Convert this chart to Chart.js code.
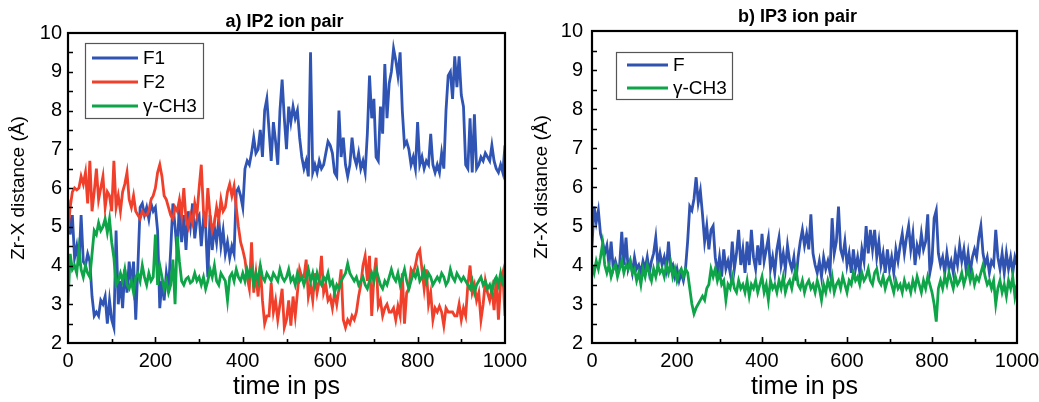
<!DOCTYPE html>
<html><head><meta charset="utf-8">
<script src="https://cdn.jsdelivr.net/npm/chart.js@4.4.1/dist/chart.umd.min.js"></script>
<style>
html,body{margin:0;padding:0;background:#fff;overflow:hidden;width:1039px;height:402px;}
canvas{position:absolute;top:0;}
#c1{left:0}
#c2{left:520px}
</style></head><body>
<canvas id="c1" width="545" height="402"></canvas>
<canvas id="c2" width="540" height="402"></canvas>
<script>
// time axis categories (ps), one sample every 5 ps
const timePs = Array.from({length: 201}, (_, i) => i * 5);
const yTickValues = [2,3,4,5,6,7,8,9,10];
const xTickValues = [0,200,400,600,800,1000];

// Panel a) IP2 ion pair
const ip2_F1 = [
5.7,4.8,5.3,4.2,4.5,4.0,5.3,4.1,4.0,4.3,4.1,3.2,2.7,2.8,2.7,3.1,3.0,3.2,2.5,3.1,
2.6,2.4,4.9,3.0,3.6,2.9,3.9,3.3,4.1,3.5,4.1,2.6,4.0,5.5,5.6,5.3,5.5,5.2,5.6,5.4,
5.5,4.9,2.9,3.6,3.1,3.8,3.4,4.4,5.6,5.0,4.3,5.7,4.6,5.3,4.4,5.4,5.0,5.6,4.7,5.2,
5.3,4.5,5.2,5.0,3.7,5.3,4.4,5.0,4.6,5.2,4.5,4.9,4.3,4.6,4.2,4.5,4.3,5.9,6.0,5.8,
5.5,6.5,6.7,6.6,6.9,7.3,6.9,7.0,7.5,6.8,8.0,8.3,7.5,6.7,7.7,7.2,6.6,8.0,8.8,7.8,
7.0,8.1,7.7,8.1,7.8,8.0,7.3,6.8,6.5,6.7,6.3,9.5,6.4,6.6,6.4,6.7,6.5,6.6,6.9,7.2,
7.1,6.9,6.4,6.3,8.0,6.8,7.3,6.6,6.3,6.6,7.3,6.8,6.6,6.9,6.5,6.7,6.4,7.4,8.9,7.8,
8.3,6.8,6.7,8.1,7.4,9.2,7.8,8.7,9.0,9.6,9.3,8.9,9.5,8.0,7.1,7.2,7.0,6.6,6.8,6.5,
7.7,6.6,6.8,6.5,6.7,6.6,7.4,6.6,6.4,6.6,6.4,6.9,6.5,8.0,8.9,9.0,8.3,9.4,8.6,9.4,
8.4,8.1,6.6,6.5,7.8,6.4,7.9,6.5,6.6,6.8,6.7,6.9,6.8,6.7,7.1,6.7,6.5,6.4,6.6,6.4,
7.1];
const ip2_F2 = [
4.9,5.5,5.9,6.0,5.95,6.0,6.3,6.1,6.4,5.6,6.7,5.4,5.9,6.5,5.7,6.0,6.3,5.5,5.9,5.8,
5.4,6.7,5.5,5.8,5.4,5.9,6.1,6.4,5.7,5.5,5.8,5.4,5.3,5.2,5.4,5.3,5.3,5.4,5.7,5.8,
6.0,6.4,6.6,6.3,5.8,5.7,5.5,5.3,5.2,5.5,5.4,5.7,5.3,6.0,5.2,5.0,5.3,5.1,5.6,5.3,
6.0,6.6,5.4,5.0,6.0,5.3,4.9,5.1,5.5,5.2,5.7,5.4,5.5,5.9,6.1,5.8,6.05,5.5,5.0,4.6,
4.4,4.15,3.7,3.4,4.6,3.3,3.8,3.2,4.0,3.1,2.5,2.7,2.7,3.55,2.8,3.1,2.6,3.0,3.4,2.4,
2.6,3.1,2.45,3.2,2.7,3.3,3.9,3.7,3.7,4.15,3.2,3.5,3.1,3.8,3.3,3.6,4.25,3.3,3.5,3.1,
3.2,2.9,3.3,3.0,3.4,3.9,2.6,2.4,2.6,2.5,2.7,2.6,2.8,3.2,3.5,4.0,4.25,3.6,4.25,2.7,
3.7,4.2,2.95,3.1,2.7,2.9,3.0,2.8,2.8,2.9,2.6,2.95,2.7,3.8,2.5,3.3,3.4,3.9,3.8,4.0,
4.3,4.4,3.9,3.4,3.9,3.0,3.3,2.6,2.9,2.8,2.95,2.8,2.45,2.9,2.8,2.8,2.8,2.7,2.7,3.0,
2.6,2.9,2.7,3.5,4.0,3.3,3.5,3.1,3.3,2.6,3.0,3.6,3.3,3.1,3.4,2.85,3.7,2.6,3.55,3.8,
2.7];
const ip2_CH3 = [
3.0,4.3,3.9,4.0,3.8,4.4,3.9,3.7,4.0,3.8,3.7,4.3,4.9,4.8,5.1,4.9,5.0,5.2,4.85,5.2,
4.6,4.2,3.5,3.6,3.8,3.6,3.9,3.5,3.4,3.6,3.3,3.7,3.8,3.6,4.0,3.7,3.5,3.8,3.6,3.7,
4.8,3.5,4.0,3.7,3.4,3.6,3.3,3.5,4.15,3.0,4.75,4.1,3.6,3.5,3.65,3.7,3.55,3.6,3.8,3.6,
3.7,3.5,3.7,3.4,3.6,3.9,3.7,4.0,3.6,3.5,3.8,3.7,3.6,3.1,3.7,3.8,3.6,3.9,3.7,3.6,
3.8,3.6,3.9,3.7,3.9,3.5,3.8,3.6,4.0,3.7,3.6,3.8,3.7,3.6,3.8,3.7,3.6,3.9,3.7,3.6,
3.7,3.9,3.6,3.7,3.5,3.8,3.6,3.7,3.5,3.7,3.9,3.6,3.8,3.5,3.8,3.6,3.5,3.7,3.6,3.8,
3.5,3.6,3.3,3.5,3.4,3.6,3.7,3.8,4.05,3.8,3.7,3.6,3.7,3.5,3.6,3.7,3.5,3.4,3.6,3.8,
3.6,3.9,3.7,3.5,3.4,3.6,3.5,3.7,3.9,3.7,3.6,3.8,3.5,3.7,3.9,3.6,3.4,3.6,3.8,3.7,
3.9,3.6,3.7,3.9,3.6,3.8,3.7,3.5,3.6,3.7,3.6,3.8,3.7,3.5,3.6,3.9,3.7,3.6,3.8,3.7,
3.6,3.7,3.6,3.5,3.4,3.6,3.3,3.5,3.6,3.7,3.5,3.6,3.4,3.5,3.3,3.6,3.7,3.5,3.8,3.5,
3.5];

// Panel b) IP3 ion pair
const ip3_F = [
4.5,5.5,5.1,5.4,4.8,4.6,4.3,4.5,4.0,4.6,3.9,4.1,3.9,4.0,4.85,4.0,4.7,3.9,4.1,3.8,
4.2,3.9,4.0,3.8,4.1,3.9,4.2,3.8,4.1,4.3,4.7,4.0,4.3,4.0,4.2,3.9,4.6,3.9,4.0,3.7,
3.9,3.6,3.8,3.6,3.9,4.6,5.5,5.4,5.7,6.25,5.6,5.9,5.3,4.6,5.0,4.4,4.9,5.0,4.2,3.8,
4.2,3.7,4.4,3.9,4.1,3.8,4.6,3.9,4.3,4.9,4.0,4.4,3.8,4.6,4.0,4.9,4.2,3.9,4.5,4.0,
4.8,4.1,4.4,4.7,3.9,4.2,3.8,4.4,4.7,4.0,4.3,3.9,4.5,4.1,3.9,4.2,3.6,4.2,4.6,4.9,
4.5,4.8,4.4,5.3,4.3,4.0,3.8,4.1,3.7,4.2,3.9,4.1,3.8,5.2,4.3,4.6,5.5,4.4,4.2,4.6,
4.0,4.3,3.8,4.4,3.9,4.2,3.8,4.4,4.1,5.0,4.3,4.9,4.4,4.9,4.2,4.6,4.0,4.3,3.8,4.4,
3.9,4.2,3.8,4.4,4.1,4.5,4.8,4.3,4.7,5.0,4.4,4.8,4.0,4.5,4.3,4.8,4.4,4.6,5.3,3.8,
4.1,5.2,5.4,4.3,4.0,4.2,3.8,4.3,3.9,4.1,3.8,4.3,4.0,4.5,4.1,4.4,3.9,4.3,3.8,4.2,
4.4,4.2,4.7,5.0,4.3,4.0,4.2,3.8,4.1,4.0,4.9,4.2,3.9,4.3,3.8,4.3,3.9,4.2,3.8,4.2,
4.0];
const ip3_CH3 = [
4.0,3.8,4.1,3.9,4.2,4.55,4.0,3.8,4.0,3.7,3.9,4.0,3.7,3.9,4.1,3.8,4.0,3.9,4.1,3.8,
3.9,3.6,3.8,3.5,3.9,3.7,4.0,3.8,3.6,3.9,3.7,4.0,3.8,3.9,3.7,4.0,3.8,4.05,3.7,3.9,
3.6,3.8,3.9,3.7,3.9,3.8,3.4,3.0,2.75,2.9,3.0,3.1,3.2,3.1,3.4,3.5,3.9,3.7,3.9,3.6,
3.8,3.5,3.6,3.1,3.5,3.4,3.7,3.4,3.3,3.6,3.4,3.5,3.3,3.6,3.2,3.5,3.4,3.6,3.3,3.5,
3.7,3.3,3.5,3.1,3.6,3.4,3.5,3.3,3.6,3.4,3.7,3.3,3.5,3.6,3.4,3.7,3.9,3.5,3.4,3.6,
3.3,3.5,3.6,3.4,3.5,3.3,3.6,3.4,3.1,3.5,3.3,3.6,3.4,3.7,3.3,3.5,3.6,3.4,3.7,3.5,
3.3,3.6,3.5,3.8,3.6,3.7,3.5,3.8,3.6,3.7,3.9,3.6,3.5,3.8,3.9,3.6,3.5,3.7,3.4,3.6,
3.7,3.5,3.3,3.6,3.4,3.5,3.3,3.6,3.4,3.5,3.3,3.6,3.4,3.7,3.5,3.3,3.6,3.4,3.7,3.5,
3.3,3.0,2.55,3.4,3.6,3.4,3.7,3.5,3.8,3.6,3.4,3.7,3.5,3.6,3.8,3.5,3.7,3.9,3.6,3.8,
3.5,3.7,3.6,3.8,4.0,3.7,3.5,3.6,3.4,3.6,3.0,3.4,3.6,3.3,3.5,3.2,3.6,3.4,3.7,3.2,
3.5];

const BLUE = '#2f54b3', RED = '#f0402c', GREEN = '#0ea448';
const FONT = '"Liberation Sans", Arial, Helvetica, sans-serif';

function pts(vals) { return vals.map((v, i) => ({x: timePs[i], y: v})); }

const framePlugin = {
  id: 'frame',
  afterDatasetsDraw(chart, args, opts) {
    const {ctx, chartArea: a, scales} = chart;
    ctx.save();
    // ticks (inward)
    ctx.strokeStyle = '#000'; ctx.lineWidth = 1.6;
    ctx.beginPath();
    for (let v = 2.5; v < 10; v += 0.5) {
      const y = Math.round(scales.y.getPixelForValue(v)) + 0.5;
      ctx.moveTo(a.left, y); ctx.lineTo(a.left + 5, y);
    }
    for (let t = 100; t < 1000; t += 100) {
      const x = Math.round(scales.x.getPixelForValue(t)) + 0.5;
      const len = (t % 200 === 0) ? 6 : 4;
      ctx.moveTo(x, a.bottom); ctx.lineTo(x, a.bottom - len);
    }
    ctx.stroke();
    // frame
    ctx.lineWidth = 2.2;
    ctx.strokeRect(a.left, a.top, a.right - a.left, a.bottom - a.top);
    // legend
    const L = opts.legend;
    const bx = a.left + L.dx, by = a.top + L.dy;
    ctx.fillStyle = '#fff';
    ctx.fillRect(bx, by, L.w, L.h);
    ctx.strokeStyle = '#555'; ctx.lineWidth = 1.2;
    ctx.strokeRect(bx + 0.5, by + 0.5, L.w, L.h);
    ctx.font = '19px ' + FONT;
    ctx.textBaseline = 'middle'; ctx.textAlign = 'left';
    chart.data.datasets.forEach((ds, i) => {
      const y = by + L.first + i * L.row;
      ctx.strokeStyle = ds.borderColor; ctx.lineWidth = 2.8;
      ctx.beginPath(); ctx.moveTo(bx + L.lx0, y); ctx.lineTo(bx + L.lx1, y); ctx.stroke();
      ctx.fillStyle = '#000';
      ctx.fillText(ds.label, bx + L.tx, y + 1);
    });
    // panel title
    ctx.font = 'bold 18px ' + FONT;
    ctx.textAlign = 'center'; ctx.textBaseline = 'middle';
    ctx.fillStyle = '#000';
    ctx.fillText(opts.title, (a.left + a.right) / 2 + opts.titleDx, opts.titleY);
    ctx.restore();
  }
};

function makeChart(id, datasets, geo) {
  return new Chart(document.getElementById(id), {
    type: 'line',
    data: {datasets},
    options: {
      responsive: false, animation: false, devicePixelRatio: 1,
      layout: {padding: {top: geo.top, right: geo.right, left: 0, bottom: 0}},
      elements: {point: {radius: 0}, line: {borderWidth: 2.8, tension: 0}},
      plugins: {
        legend: {display: false}, tooltip: {enabled: false},
        frame: geo.frame
      },
      scales: {
        x: {
          type: 'linear', min: 0, max: 1000,
          afterBuildTicks: s => { s.ticks = xTickValues.map(v => ({value: v})); },
          ticks: {color: '#000', font: {family: FONT, size: 20}, padding: 6, maxRotation: 0,
                  callback: v => String(v)},
          grid: {display: false, drawTicks: false},
          border: {display: false},
          title: {display: true, text: 'time in ps', color: '#000',
                  font: {family: FONT, size: 25}, padding: {top: 0, bottom: 0}},
          afterFit: s => { s.height = geo.xh; }
        },
        y: {
          type: 'linear', min: 2, max: 10,
          afterBuildTicks: s => { s.ticks = yTickValues.map(v => ({value: v})); },
          ticks: {color: '#000', font: {family: FONT, size: 20}, padding: geo.ypad,
                  callback: v => String(v)},
          grid: {display: false, drawTicks: false},
          border: {display: false},
          title: {display: true, text: 'Zr-X distance (Å)', color: '#000',
                  font: {family: FONT, size: 19}, padding: {top: geo.ytitle, bottom: 0}},
          afterFit: s => { s.width = geo.yw; }
        }
      }
    },
    plugins: [framePlugin]
  });
}

makeChart('c1', [
  {label: 'F1', data: pts(ip2_F1), borderColor: BLUE, order: 2},
  {label: 'F2', data: pts(ip2_F2), borderColor: RED, order: 1},
  {label: 'γ-CH3', data: pts(ip2_CH3), borderColor: GREEN, order: 0}
], {top: 33, right: 40, yw: 68, xh: 59, ypad: 6, ytitle: 7,
    frame: {title: 'a) IP2 ion pair', titleDx: -2, titleY: 22,
            legend: {dx: 17, dy: 10, w: 118, h: 75, first: 15, row: 24, lx0: 7, lx1: 53, tx: 58}}});

makeChart('c2', [
  {label: 'F', data: pts(ip3_F), borderColor: '#3052b0', order: 1},
  {label: 'γ-CH3', data: pts(ip3_CH3), borderColor: GREEN, order: 0}
], {top: 31, right: 43, yw: 72, xh: 59, ypad: 9, ytitle: 10,
    frame: {title: 'b) IP3 ion pair', titleDx: -7, titleY: 17,
            legend: {dx: 24, dy: 21, w: 116, h: 47, first: 13, row: 23, lx0: 11, lx1: 52, tx: 57}}});
</script>
</body></html>
